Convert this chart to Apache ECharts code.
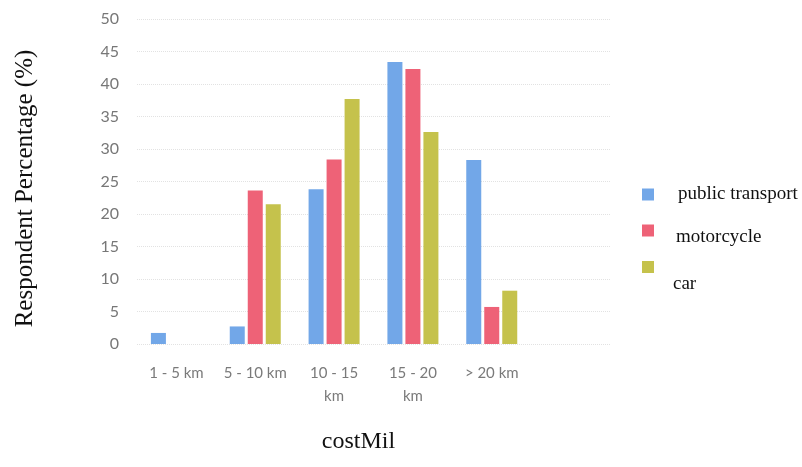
<!DOCTYPE html>
<html>
<head>
<meta charset="utf-8">
<script src="https://cdn.jsdelivr.net/npm/echarts@6/dist/echarts.min.js"></script>
<style>html,body{margin:0;padding:0;background:#fff;}#c{width:802px;height:467px;}</style>
</head>
<body>
<div id="c"></div>
<script>
const categories = ["1 - 5 km", "5 - 10 km", "10 - 15\nkm", "15 - 20\nkm", "> 20 km", ""];
const publicTransport = [1.7, 2.7, 23.8, 43.4, 28.3, null];
const motorcycle = [0, 23.6, 28.4, 42.3, 5.7, null];
const car = [0, 21.5, 37.7, 32.6, 8.2, null];
const yTicks = { min: 0, max: 50, interval: 5 };

const colors = { pt: "#72a7e8", mc: "#ee6277", car: "#c5c24c" };
const serif = "Liberation Serif";
const sans = "Lato";

const chart = echarts.init(document.getElementById('c'));
function leg(name, top, left, padLeft, lineH) {
  const o = {
    data: [name], orient: 'vertical', left: left, top: top,
    itemWidth: 12, itemHeight: 12, itemGap: 0, icon: 'rect',
    textStyle: { fontFamily: serif, fontSize: 19, color: '#111', padding: [0, 0, 0, padLeft] },
    selectedMode: false
  };
  if (lineH) {
    o.formatter = function (n) { return '\n' + n; };
    o.textStyle.lineHeight = lineH;
  }
  return o;
}
chart.setOption({
  animation: false,
  grid: { left: 137, right: 192, top: 19, bottom: 123 },
  legend: [
    leg('public transport', 180, 637, 19),
    leg('motorcycle', 209, 637, 17, 14),
    leg('car', 228, 637, 14, 34)
  ],
  xAxis: {
    type: 'category', data: categories,
    name: 'costMil', nameLocation: 'middle', nameGap: 86,
    nameTextStyle: { fontFamily: serif, fontSize: 24, color: '#111', padding: [0, 30, 0, 0] },
    axisLine: { show: false }, axisTick: { show: false },
    axisLabel: { fontFamily: sans, fontSize: 15, color: '#7a7a7a', margin: 18, lineHeight: 23, interval: 0 }
  },
  yAxis: {
    type: 'value', min: yTicks.min, max: yTicks.max, interval: yTicks.interval,
    name: 'Respondent Percentage (%)', nameLocation: 'middle', nameGap: 99,
    nameTextStyle: { fontFamily: serif, fontSize: 25, color: '#111', padding: [0, 14, 0, 0] },
    axisLine: { show: false }, axisTick: { show: false },
    axisLabel: { fontFamily: sans, fontSize: 16, color: '#777', margin: 18 },
    splitLine: { lineStyle: { color: '#e2e2e2', type: 'dotted', width: 1 } }
  },
  series: [
    { name: 'public transport', type: 'bar', data: publicTransport, barWidth: 15, barGap: '20%', itemStyle: { color: colors.pt } },
    { name: 'motorcycle', type: 'bar', data: motorcycle, barWidth: 15, barGap: '20%', itemStyle: { color: colors.mc } },
    { name: 'car', type: 'bar', data: car, barWidth: 15, barGap: '20%', itemStyle: { color: colors.car } }
  ]
});
</script>
</body>
</html>
